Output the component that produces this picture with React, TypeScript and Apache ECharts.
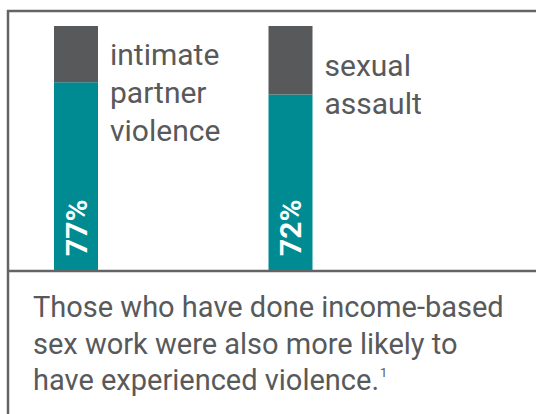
import React, { useEffect, useRef } from "react";
import * as echarts from "echarts";

const categories = ["intimate\npartner\nviolence", "sexual\nassault"];
const percentValues = [77, 72];
const remainderValues = [23, 28];
const captionLines = [
  "Those who have done income-based",
  "sex work were also more likely to",
  "have experienced violence.",
];
const footnoteMark = "1";

const TEAL = "#008b93";
const GRAY = "#58595b";
const TEXT = "#58595b";
const LINE = "#636466";
const FONT = "Roboto";

export default function App() {
  const ref = useRef<HTMLDivElement>(null);
  useEffect(() => {
    if (!ref.current) return;
    const chart = echarts.init(ref.current, undefined, { renderer: "svg" });
    const nameOffsets = [9, 20];
    chart.setOption({
      animation: false,
      backgroundColor: "#ffffff",
      textStyle: { fontFamily: FONT },
      title: {
        left: 33,
        top: 289,
        padding: 0,
        text:
          captionLines
            .map((l, i) =>
              i === captionLines.length - 1 ? `{a|${l}}{s|${footnoteMark}}` : `{a|${l}}`
            )
            .join("\n"),
        textStyle: {
          fontWeight: "normal",
          rich: {
            a: { fontSize: 29, fontWeight: "normal", lineHeight: 36.5, color: TEXT, fontFamily: FONT },
            s: { fontSize: 13, fontWeight: "normal", lineHeight: 36.5, color: TEXT, fontFamily: FONT, verticalAlign: "top", padding: [4, 0, 0, 1] },
          },
        },
      },
      grid: { left: 76, right: 245.5, top: 26, bottom: 143 },
      xAxis: {
        type: "category",
        data: categories,
        boundaryGap: false,
        show: false,
      },
      yAxis: { type: "value", min: 0, max: 100, show: false },
      series: [
        {
          type: "bar",
          stack: "s",
          barWidth: 44,
          clip: false,
          itemStyle: { color: TEAL },
          data: percentValues,
          label: {
            show: true,
            position: "insideBottom",
            rotate: 90,
            align: "left",
            verticalAlign: "middle",
            distance: 15,
            color: "#ffffff",
            fontWeight: "bold",
            fontSize: 30,
            fontFamily: FONT,
            formatter: (p: any) => `${p.value}%`,
          },
        },
        {
          type: "bar",
          stack: "s",
          barWidth: 44,
          clip: false,
          itemStyle: { color: GRAY },
          data: remainderValues.map((v, i) => ({
            value: v,
            label: {
              show: true,
              position: ["100%", 0],
              offset: [12, nameOffsets[i]],
              align: "left",
              verticalAlign: "top",
              color: TEXT,
              fontSize: 30,
              lineHeight: 38,
              fontFamily: FONT,
              formatter: (p: any) => p.name,
            },
          })),
        },
      ],
      graphic: [
        { type: "line", shape: { x1: 8, y1: 10, x2: 8, y2: 414 }, style: { stroke: LINE, lineWidth: 2.5 }, z: 10 },
        { type: "line", shape: { x1: 7, y1: 11, x2: 536, y2: 11 }, style: { stroke: LINE, lineWidth: 2.5 }, z: 10 },
        { type: "line", shape: { x1: 7, y1: 271, x2: 536, y2: 271 }, style: { stroke: LINE, lineWidth: 2.5 }, z: 10 },
      ],
    });
    return () => chart.dispose();
  }, []);
  return (
    <div
      ref={ref}
      style={{ position: "fixed", left: 0, top: 0, width: 536, height: 414 }}
    />
  );
}
